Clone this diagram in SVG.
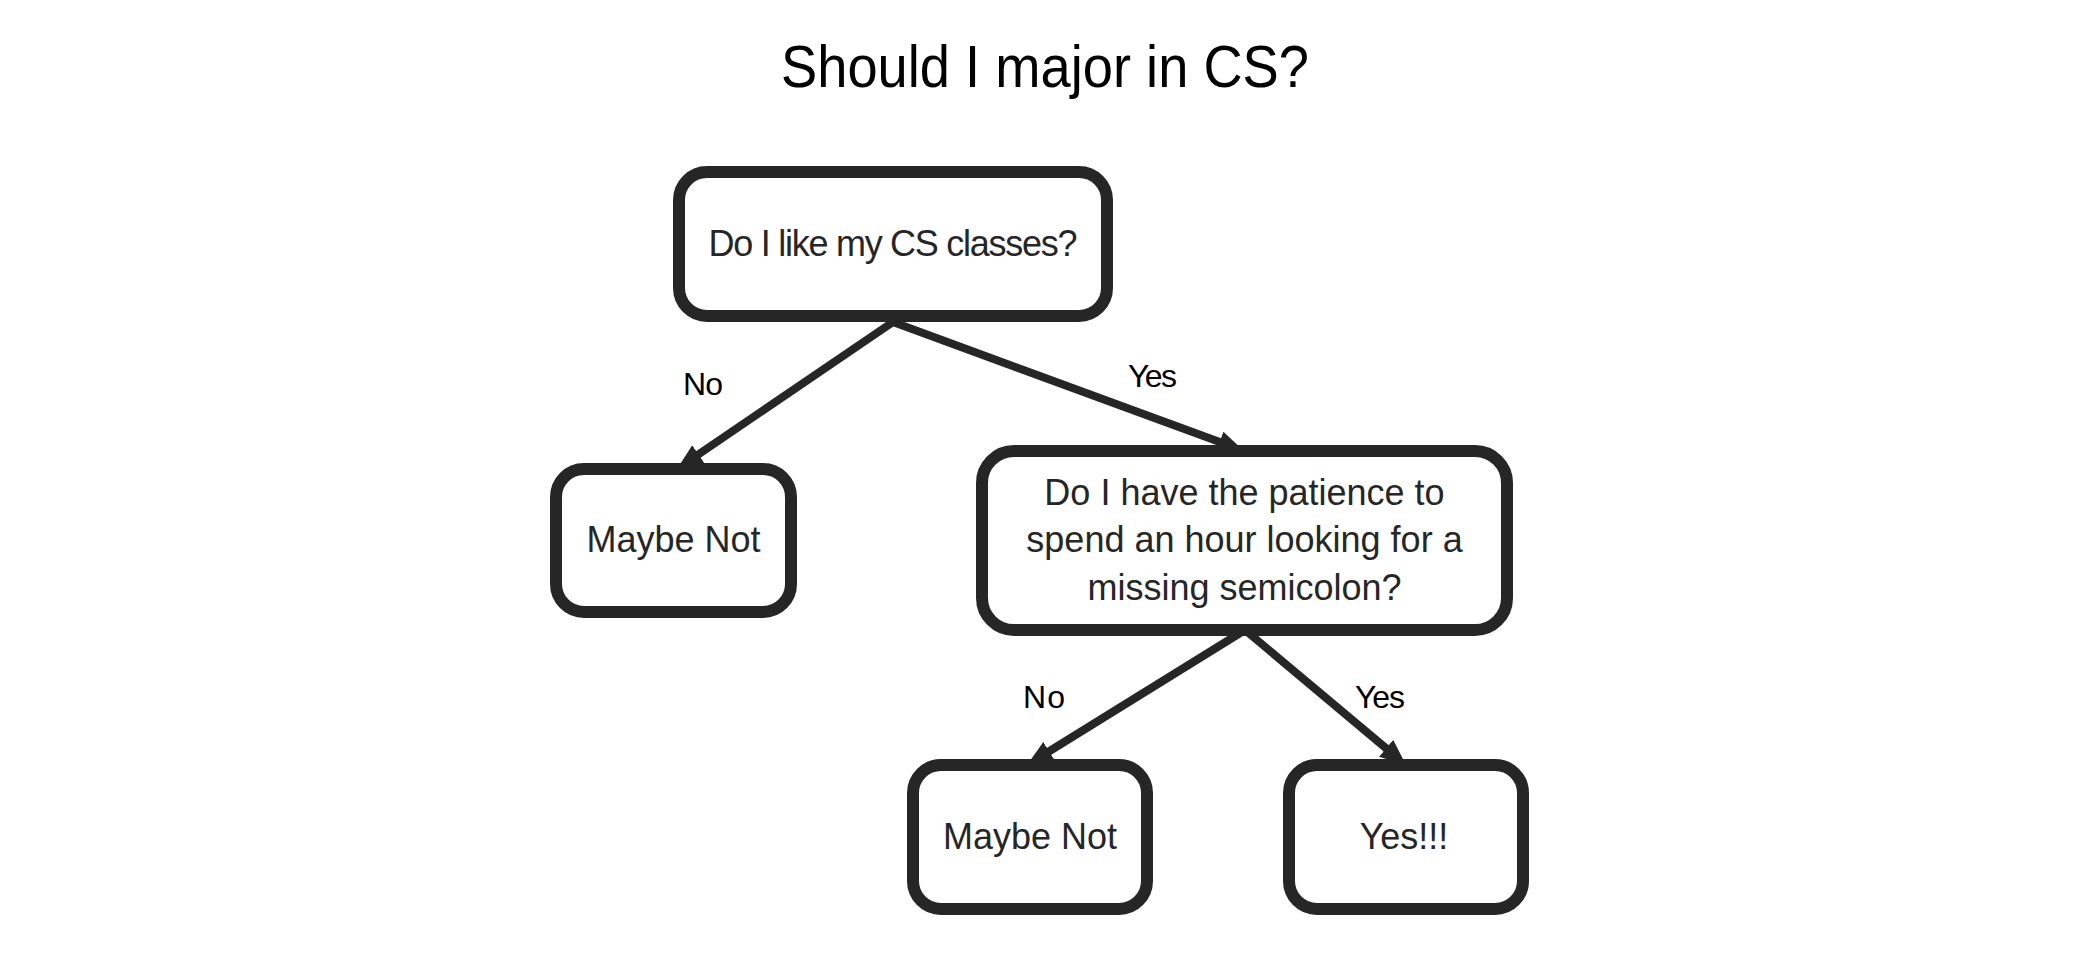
<svg xmlns="http://www.w3.org/2000/svg" width="2084" height="962" viewBox="0 0 2084 962">
  <style>
    .box { fill: #ffffff; stroke: #262626; stroke-width: 12; }
    .ntext { font-family: "Liberation Sans", Arial, sans-serif; font-size: 36px; fill: #262626; text-anchor: middle; }
    .label { font-family: "Liberation Sans", Arial, sans-serif; font-size: 32px; fill: #000000; }
    .title { font-family: "Liberation Sans", Arial, sans-serif; font-size: 60px; fill: #000000; }
    .edge { stroke: #262626; stroke-width: 8; fill: none; marker-end: url(#arrow); }
  </style>
  <defs>
    <marker id="arrow" markerUnits="userSpaceOnUse" viewBox="0 0 26 22" refX="6" refY="11" markerWidth="26" markerHeight="22" orient="auto">
      <path d="M0,0 L26,11 L0,22 z" fill="#262626"/>
    </marker>
  </defs>
  <rect width="2084" height="962" fill="#ffffff"/>

  <text class="title" x="781" y="87" textLength="528" lengthAdjust="spacingAndGlyphs">Should I major in CS?</text>

  <g id="connectors">
    <line class="edge" x1="893" y1="322" x2="693.5" y2="457.7"/>
    <line class="edge" x1="893" y1="322" x2="1225.2" y2="444.1"/>
    <line class="edge" x1="1245" y1="630" x2="1044" y2="754.5"/>
    <line class="edge" x1="1245" y1="630" x2="1390.7" y2="752.1"/>
    <text class="label" x="683" y="395" textLength="40">No</text>
    <text class="label" x="1128" y="387" textLength="49">Yes</text>
    <text class="label" x="1023" y="708" textLength="42">No</text>
    <text class="label" x="1355" y="708" textLength="50">Yes</text>
  </g>

  <g id="q1">
    <rect class="box" x="679" y="172" width="428" height="144" rx="28" ry="28"/>
    <text class="ntext" x="893" y="256" textLength="369">Do I like my CS classes?</text>
  </g>

  <g id="maybe-not-1">
    <rect class="box" x="556" y="469" width="235" height="143" rx="28" ry="28"/>
    <text class="ntext" x="673.5" y="552">Maybe Not</text>
  </g>

  <g id="q2">
    <rect class="box" x="982" y="451" width="525" height="179" rx="32" ry="32"/>
    <text class="ntext" x="1244.5" y="505">Do I have the patience to</text>
    <text class="ntext" x="1244.5" y="552">spend an hour looking for a</text>
    <text class="ntext" x="1244.5" y="600">missing semicolon?</text>
  </g>

  <g id="maybe-not-2">
    <rect class="box" x="913" y="765" width="234" height="144" rx="28" ry="28"/>
    <text class="ntext" x="1030" y="849">Maybe Not</text>
  </g>

  <g id="yes">
    <rect class="box" x="1289" y="765" width="234" height="144" rx="28" ry="28"/>
    <text class="ntext" x="1404" y="849">Yes!!!</text>
  </g>
</svg>
